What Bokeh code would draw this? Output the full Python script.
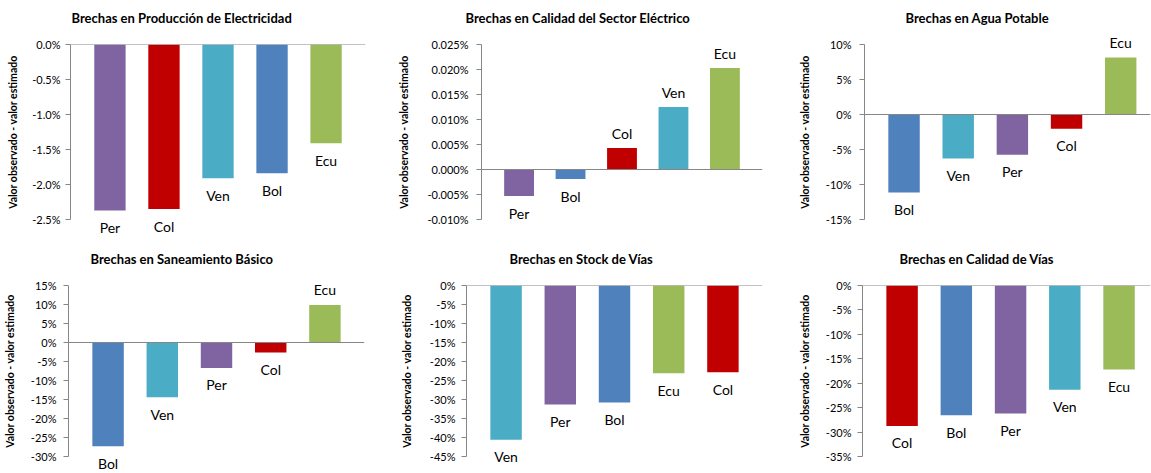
from bokeh.plotting import figure
from bokeh.models import Range1d, FixedTicker, PrintfTickFormatter, Span, ColumnDataSource, Title
from bokeh.layouts import row, column
from bokeh.embed import file_html
from bokeh.resources import INLINE
from bokeh.core.properties import value

FONT = "Lato"
COLORS = {"Per": "#8064A2", "Col": "#C00000", "Ven": "#4BACC6", "Bol": "#4F81BD", "Ecu": "#9BBB59"}

# ---- data (values in %) ----
title1 = "Brechas en Producción de Electricidad"
cats1 = ["Per", "Col", "Ven", "Bol", "Ecu"]
vals1 = [-2.37, -2.35, -1.91, -1.84, -1.41]
ticks1 = [-2.5, -2.0, -1.5, -1.0, -0.5, 0.0]

title2 = "Brechas en Calidad del Sector Eléctrico"
cats2 = ["Per", "Bol", "Col", "Ven", "Ecu"]
vals2 = [-0.0053, -0.0019, 0.0043, 0.0125, 0.0203]
ticks2 = [-0.010, -0.005, 0.0, 0.005, 0.010, 0.015, 0.020, 0.025]

title3 = "Brechas en Agua Potable"
cats3 = ["Bol", "Ven", "Per", "Col", "Ecu"]
vals3 = [-11.15, -6.3, -5.75, -2.05, 8.15]
ticks3 = [-15, -10, -5, 0, 5, 10]

title4 = "Brechas en Saneamiento Básico"
cats4 = ["Bol", "Ven", "Per", "Col", "Ecu"]
vals4 = [-27.3, -14.4, -6.7, -2.6, 9.9]
ticks4 = [-30, -25, -20, -15, -10, -5, 0, 5, 10, 15]

title5 = "Brechas en Stock de Vías"
cats5 = ["Ven", "Per", "Bol", "Ecu", "Col"]
vals5 = [-40.6, -31.3, -30.8, -23.1, -22.85]
ticks5 = [-45, -40, -35, -30, -25, -20, -15, -10, -5, 0]

title6 = "Brechas en Calidad de Vías"
cats6 = ["Col", "Bol", "Per", "Ven", "Ecu"]
vals6 = [-28.75, -26.55, -26.2, -21.35, -17.2]
ticks6 = [-35, -30, -25, -20, -15, -10, -5, 0]

YLABEL = "Valor observado - valor estimado"


def make(title, cats, vals, ticks, fmt, width, height, left, right, top, bottom,
         xend, title_offset, title_gap, tick_standoff, label_standoff):
    p = figure(width=width, height=height, output_backend="svg", toolbar_location=None,
               x_range=Range1d(-0.73, xend), y_range=Range1d(min(ticks), max(ticks)),
               min_border_left=left, min_border_right=right,
               min_border_top=top, min_border_bottom=bottom)
    p.outline_line_color = None
    p.xgrid.visible = False
    p.ygrid.visible = False
    p.xaxis.visible = False
    p.background_fill_color = "white"
    p.border_fill_color = "white"

    # spacer between title and frame, then the title itself
    p.add_layout(Title(text=" ", text_font_size="1px", standoff=title_gap), "above")
    p.add_layout(Title(text=title, text_font=FONT, text_font_size="13px",
                       text_font_style="bold", text_color="#000000", align="left",
                       offset=title_offset, standoff=0), "above")

    ax = p.yaxis[0]
    ax.ticker = FixedTicker(ticks=ticks)
    ax.formatter = PrintfTickFormatter(format=fmt)
    ax.axis_line_color = "#868686"
    ax.major_tick_line_color = "#868686"
    ax.major_tick_out = 5
    ax.major_tick_in = 0
    ax.minor_tick_line_color = None
    ax.major_label_text_font = FONT
    ax.major_label_text_font_size = "11px"
    ax.major_label_text_color = "#000000"
    ax.major_label_standoff = tick_standoff
    ax.axis_label = YLABEL
    ax.axis_label_text_font = FONT
    ax.axis_label_text_font_size = "10.5px"
    ax.axis_label_text_font_style = "bold"
    ax.axis_label_text_color = "#000000"
    ax.axis_label_standoff = label_standoff

    src = ColumnDataSource(dict(
        x=list(range(len(cats))),
        v=vals,
        cat=cats,
        color=[COLORS[c] for c in cats],
        off=[17 if v < 0 else -15 for v in vals],
    ))
    p.vbar(x="x", top="v", bottom=0, width=0.58, fill_color="color", line_color=None, source=src)
    p.add_layout(Span(location=0, dimension="width", line_color="#868686", line_width=1))
    p.text(x="x", y="v", text="cat", y_offset="off", text_align="center", text_baseline="middle",
           text_font=value(FONT), text_font_size="14px", text_color="#000000", source=src,
           level="overlay")
    return p


p1 = make(title1, cats1, vals1, ticks1, "%.1f%%", 384, 236, 70, 19, 44, 17, 4.73, 1, 16, 5, 10)
p2 = make(title2, cats2, vals2, ticks2, "%.3f%%", 384, 236, 97, 6, 44, 17, 4.73, -16, 16, 8, 14)
p3 = make(title3, cats3, vals3, ticks3, "%d%%", 383, 236, 96, 1, 44, 17, 4.55, 41, 16, 8, 12)
p4 = make(title4, cats4, vals4, ticks4, "%d%%", 384, 237, 68, 20, 49, 17, 4.73, 22, 16, 7, 12)
p5 = make(title5, cats5, vals5, ticks5, "%d%%", 384, 237, 82, 6, 49, 17, 4.73, 43, 16, 6, 14)
p6 = make(title6, cats6, vals6, ticks6, "%d%%", 383, 237, 94, 1, 49, 17, 4.58, 37, 16, 6, 12)

layout = column(row(p1, p2, p3), row(p4, p5, p6))
open("out.html", "w").write(file_html(layout, INLINE))
